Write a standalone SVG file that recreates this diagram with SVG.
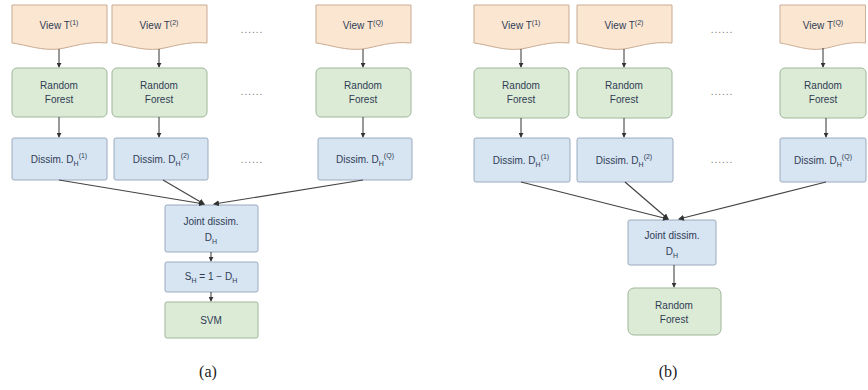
<svg xmlns="http://www.w3.org/2000/svg" width="868" height="390" viewBox="0 0 868 390">
<defs>
<marker id="ah" viewBox="0 0 6 6" refX="5" refY="3" markerWidth="5" markerHeight="5" orient="auto">
<path d="M0,0 L6,3 L0,6 z" fill="#333"/>
</marker>
<path id="doc" d="M0,0 H95 V38 C75,36 60,42 47,44 C30,46 15,40 0,38 Z"/>
</defs>
<style>
.view{fill:#fbe6d2;stroke:#c9ab92;stroke-width:1}
.rf{fill:#dcebd6;stroke:#9fb59a;stroke-width:1}
.ds{fill:#d7e4f2;stroke:#9aabbf;stroke-width:1}
.t{font-family:"Liberation Sans",Arial,sans-serif;font-size:10px;fill:#2f3d55;text-anchor:middle}
.s{font-size:7px}
.dots{font-family:"Liberation Sans",Arial,sans-serif;font-size:10px;fill:#777;text-anchor:middle;letter-spacing:1px}
.cap{font-family:"Liberation Serif","Times New Roman",serif;font-size:16px;fill:#222;text-anchor:middle}
.c{stroke:#333;stroke-width:1;fill:none;marker-end:url(#ah)}
.l{stroke:#444;stroke-width:1.2;fill:none;marker-end:url(#ah)}
</style>
<rect width="868" height="390" fill="#fff"/>

<!-- Panel (a) -->
<g id="a-view1"><use href="#doc" x="12" y="5" class="view"/><text class="t" x="59" y="29">View T<tspan class="s" dy="-4">(1)</tspan></text></g>
<g id="a-view2"><use href="#doc" x="112" y="5" class="view"/><text class="t" x="159" y="29">View T<tspan class="s" dy="-4">(2)</tspan></text></g>
<g id="a-view3"><use href="#doc" x="316" y="5" class="view"/><text class="t" x="363" y="29">View T<tspan class="s" dy="-4">(Q)</tspan></text></g>
<g id="a-rf1"><rect x="12" y="68" width="95" height="49" rx="5" class="rf"/><text class="t" x="59" y="89">Random</text><text class="t" x="59" y="103">Forest</text></g>
<g id="a-rf2"><rect x="112" y="68" width="95" height="49" rx="5" class="rf"/><text class="t" x="159" y="89">Random</text><text class="t" x="159" y="103">Forest</text></g>
<g id="a-rf3"><rect x="316" y="68" width="95" height="49" rx="5" class="rf"/><text class="t" x="363" y="89">Random</text><text class="t" x="363" y="103">Forest</text></g>
<g id="a-ds1"><rect x="12" y="138" width="95" height="42" rx="2" class="ds"/><text class="t" x="59" y="163">Dissim. D<tspan class="s" dy="3">H</tspan><tspan class="s" dy="-8">(1)</tspan></text></g>
<g id="a-ds2"><rect x="114" y="138" width="94" height="42" rx="2" class="ds"/><text class="t" x="161" y="163">Dissim. D<tspan class="s" dy="3">H</tspan><tspan class="s" dy="-8">(2)</tspan></text></g>
<g id="a-ds3"><rect x="318" y="138" width="94" height="42" rx="2" class="ds"/><text class="t" x="365" y="163">Dissim. D<tspan class="s" dy="3">H</tspan><tspan class="s" dy="-8">(Q)</tspan></text></g>
<g id="a-joint"><rect x="165" y="205" width="93" height="47" rx="2" class="ds"/><text class="t" x="211" y="225">Joint dissim.</text><text class="t" x="211" y="241">D<tspan class="s" dy="3">H</tspan></text></g>
<g id="a-s"><rect x="165" y="262" width="93" height="30" rx="2" class="ds"/><text class="t" x="211" y="280">S<tspan class="s" dy="3">H</tspan><tspan dy="-3"> = 1 − D</tspan><tspan class="s" dy="3">H</tspan></text></g>
<g id="a-svm"><rect x="165" y="302" width="93" height="36" rx="2" class="rf"/><text class="t" x="211" y="324">SVM</text></g>
<g id="a-dots"><text class="dots" x="252" y="33">......</text><text class="dots" x="252" y="95">......</text><text class="dots" x="252" y="163">......</text></g>
<text class="cap" x="208" y="377">(a)</text>

<!-- Panel (b) -->
<g id="b-view1"><use href="#doc" x="474" y="5" class="view"/><text class="t" x="521" y="29">View T<tspan class="s" dy="-4">(1)</tspan></text></g>
<g id="b-view2"><use href="#doc" x="577" y="5" class="view"/><text class="t" x="624" y="29">View T<tspan class="s" dy="-4">(2)</tspan></text></g>
<g id="b-view3"><use href="#doc" x="780" y="5" class="view" transform="translate(780 5) scale(0.9 1) translate(-780 -5)"/><text class="t" x="823" y="29">View T<tspan class="s" dy="-4">(Q)</tspan></text></g>
<g id="b-rf1"><rect x="474" y="68" width="95" height="50" rx="5" class="rf"/><text class="t" x="521" y="89">Random</text><text class="t" x="521" y="103">Forest</text></g>
<g id="b-rf2"><rect x="577" y="68" width="95" height="50" rx="5" class="rf"/><text class="t" x="624" y="89">Random</text><text class="t" x="624" y="103">Forest</text></g>
<g id="b-rf3"><rect x="780" y="68" width="86" height="50" rx="5" class="rf"/><text class="t" x="823" y="89">Random</text><text class="t" x="823" y="103">Forest</text></g>
<g id="b-ds1"><rect x="474" y="138" width="96" height="44" rx="2" class="ds"/><text class="t" x="521" y="164">Dissim. D<tspan class="s" dy="3">H</tspan><tspan class="s" dy="-8">(1)</tspan></text></g>
<g id="b-ds2"><rect x="577" y="138" width="96" height="44" rx="2" class="ds"/><text class="t" x="624" y="164">Dissim. D<tspan class="s" dy="3">H</tspan><tspan class="s" dy="-8">(2)</tspan></text></g>
<g id="b-ds3"><rect x="780" y="138" width="86" height="44" rx="2" class="ds"/><text class="t" x="823" y="164">Dissim. D<tspan class="s" dy="3">H</tspan><tspan class="s" dy="-8">(Q)</tspan></text></g>
<g id="b-joint"><rect x="628" y="220" width="88" height="45" rx="2" class="ds"/><text class="t" x="672" y="239">Joint dissim.</text><text class="t" x="672" y="255">D<tspan class="s" dy="3">H</tspan></text></g>
<g id="b-rf"><rect x="628" y="288" width="93" height="47" rx="6" class="rf"/><text class="t" x="674" y="309">Random</text><text class="t" x="674" y="323">Forest</text></g>
<g id="b-dots"><text class="dots" x="722" y="33">......</text><text class="dots" x="722" y="95">......</text><text class="dots" x="722" y="163">......</text></g>
<text class="cap" x="668" y="377">(b)</text>

<!-- connectors -->
<g id="connectors">
<line class="c" x1="59" y1="49" x2="59" y2="67"/>
<line class="c" x1="159" y1="49" x2="159" y2="67"/>
<line class="c" x1="363" y1="49" x2="363" y2="67"/>
<line class="c" x1="59" y1="117" x2="59" y2="137"/>
<line class="c" x1="159" y1="117" x2="159" y2="137"/>
<line class="c" x1="363" y1="117" x2="363" y2="137"/>
<line class="l" x1="59" y1="180" x2="204" y2="204"/>
<line class="l" x1="163" y1="180" x2="204" y2="204"/>
<line class="l" x1="363" y1="180" x2="214" y2="204"/>
<line class="c" x1="211" y1="252" x2="211" y2="261"/>
<line class="c" x1="211" y1="292" x2="211" y2="301"/>

<line class="c" x1="521" y1="49" x2="521" y2="67"/>
<line class="c" x1="624" y1="49" x2="624" y2="67"/>
<line class="c" x1="823" y1="48" x2="823" y2="67"/>
<line class="c" x1="521" y1="118" x2="521" y2="137"/>
<line class="c" x1="624" y1="118" x2="624" y2="137"/>
<line class="c" x1="826" y1="118" x2="826" y2="137"/>
<line class="l" x1="521" y1="182" x2="668" y2="219"/>
<line class="l" x1="625" y1="182" x2="668" y2="219"/>
<line class="l" x1="826" y1="182" x2="679" y2="219"/>
<line class="c" x1="674" y1="265" x2="674" y2="287"/>
</g>
</svg>
